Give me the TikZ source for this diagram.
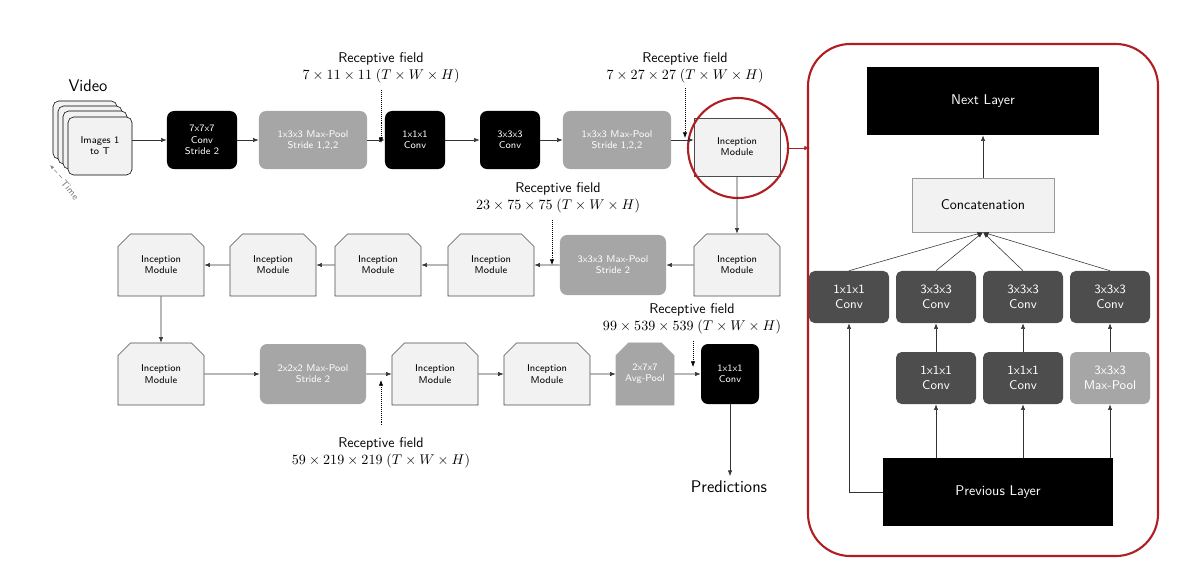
\documentclass[tikz,border=0pt]{standalone}
\usepackage{tikz}
\usetikzlibrary{shapes.misc}
\usetikzlibrary{arrows.meta}
\definecolor{darkbox}{HTML}{4D4D4D}
\definecolor{poolbox}{HTML}{A6A6A6}
\definecolor{incbox}{HTML}{F2F2F2}
\definecolor{ringred}{HTML}{B01E23}
\tikzset{
  every node/.style={font=\sffamily},
  blk/.style={rectangle,rounded corners=5pt,fill=black,text=white,align=center,font=\sffamily\scriptsize,minimum width=1.75cm,minimum height=1.45cm},
  pool/.style={rectangle,rounded corners=5pt,fill=poolbox,text=white,align=center,font=\sffamily\scriptsize,minimum width=2.7cm,minimum height=1.45cm},
  inc/.style={chamfered rectangle,chamfered rectangle corners={north west,north east},chamfered rectangle xsep=6pt,draw=black!70,fill=incbox,align=center,font=\sffamily\scriptsize,minimum width=2.15cm,minimum height=1.55cm,inner sep=0pt},
  drk/.style={rectangle,rounded corners=4pt,fill=darkbox,text=white,align=center,font=\sffamily\small,minimum width=2cm,minimum height=1.3cm},
  big/.style={rectangle,fill=black,text=white,font=\sffamily,minimum width=5.8cm,minimum height=1.7cm},
  frame/.style={rectangle,rounded corners=4pt,draw,fill=incbox,minimum width=1.6cm,minimum height=1.45cm},
  rf/.style={align=center,font=\sffamily\normalsize},
  arr/.style={-{Latex[length=4pt]},black!80},
  dot/.style={-{Latex[length=4pt]},densely dotted}
}
\begin{document}
\begin{tikzpicture}[x=0.025cm,y=-0.025cm]
  \useasboundingbox (0,0) rectangle (1200,573);
  % first row
  \node[font=\sffamily\large] (video) at (88,86) {Video};
  \node[frame] at (85,130) {};
  \node[frame] at (90,135) {};
  \node[frame] at (95,140) {};
  \node[frame,align=center,font=\sffamily\scriptsize] (img) at (100,146) {Images 1\\to T};
  \node[rotate=-50,text=gray,font=\sffamily\scriptsize] (time) at (70,190) {Time};
  \draw[-{Latex[length=3pt]},gray,densely dashed] (62,178) -- (50,165);
  \node[blk] (c7) at (202,140) {7x7x7\\Conv\\Stride 2};
  \node[pool] (mp1) at (313,140) {1x3x3 Max-Pool\\Stride 1,2,2};
  \node[blk,minimum width=1.5cm] (c1) at (415,140) {1x1x1\\Conv};
  \node[blk,minimum width=1.5cm] (c3) at (510,140) {3x3x3\\Conv};
  \node[pool] (mp2) at (617,140) {1x3x3 Max-Pool\\Stride 1,2,2};
  \node[rectangle,draw=black!70,fill=incbox,align=center,font=\sffamily\scriptsize,minimum width=2.15cm,minimum height=1.45cm] (i0) at (737,147) {Inception\\Module};
  \draw[ringred,line width=1.5pt] (738,148) circle (50);
  \draw[arr] (img.east |- c7) -- (c7);
  \draw[arr] (c7) -- (mp1);
  \draw[arr] (mp1) -- (c1);
  \draw[arr] (c1) -- (c3);
  \draw[arr] (c3) -- (mp2);
  \draw[arr] (mp2) -- (i0.west |- mp2);
  \node[rf] (rf1) at (381,68) {Receptive field\\$7\times11\times11\;(T\times W\times H)$};
  \draw[dot] (381,90) -- (381,143);
  \node[rf] (rf2) at (685,68) {Receptive field\\$7\times27\times27\;(T\times W\times H)$};
  \draw[dot] (685,88) -- (685,138);
  % second row
  \node[inc] (i1) at (737,265) {Inception\\Module};
  \node[pool,minimum width=2.65cm,minimum height=1.5cm] (mp3) at (613,265) {3x3x3 Max-Pool\\Stride 2};
  \node[inc] (i2) at (491,265) {Inception\\Module};
  \node[inc] (i3) at (378,265) {Inception\\Module};
  \node[inc] (i4) at (273,265) {Inception\\Module};
  \node[inc] (i5) at (161,265) {Inception\\Module};
  \draw[arr] (i0) -- (i1);
  \draw[arr] (i1) -- (mp3);
  \draw[arr] (mp3) -- (i2);
  \draw[arr] (i2) -- (i3);
  \draw[arr] (i3) -- (i4);
  \draw[arr] (i4) -- (i5);
  \node[rf] (rf3) at (558,198) {Receptive field\\$23\times75\times75\;(T\times W\times H)$};
  \draw[dot] (552,220) -- (552,265);
  % third row
  \node[inc] (i6) at (161,374) {Inception\\Module};
  \node[pool,minimum width=2.65cm,minimum height=1.5cm] (mp4) at (313,374) {2x2x2 Max-Pool\\Stride 2};
  \node[inc] (i7) at (435,374) {Inception\\Module};
  \node[inc] (i8) at (547,374) {Inception\\Module};
  \node[inc,fill=poolbox,text=white,draw=poolbox,minimum width=1.45cm] (ap) at (645,374) {2x7x7\\Avg-Pool};
  \node[blk,minimum width=1.45cm,minimum height=1.5cm] (c9) at (730,374) {1x1x1\\Conv};
  \draw[arr] (i5) -- (i6);
  \draw[arr] (i6) -- (mp4);
  \draw[arr] (mp4) -- (i7);
  \draw[arr] (i7) -- (i8);
  \draw[arr] (i8) -- (ap);
  \draw[arr] (ap) -- (c9);
  \node[rf] (rf4) at (692,319) {Receptive field\\$99\times539\times539\;(T\times W\times H)$};
  \draw[dot] (693,341) -- (693,367);
  \node[rf] (rf5) at (381,453) {Receptive field\\$59\times219\times219\;(T\times W\times H)$};
  \draw[dot] (381,425) -- (381,380);
  \node[font=\sffamily\large] (pred) at (729,487) {Predictions};
  \draw[arr] (c9.south) -- (c9.south |- pred.north);
  % inception module detail
  \draw[ringred,line width=1.5pt,rounded corners=30pt] (808,44) rectangle (1158,556);
  \draw[arr,ringred] (788,148) -- (810,148);
  \node[big] (next) at (983,101) {Next Layer};
  \node[rectangle,draw=black!40,fill=incbox,minimum width=3.55cm,minimum height=1.35cm] (cat) at (983,205) {Concatenation};
  \node[drk] (a1) at (849,297) {1x1x1\\Conv};
  \node[drk] (a2) at (936,297) {3x3x3\\Conv};
  \node[drk] (a3) at (1023,297) {3x3x3\\Conv};
  \node[drk] (a4) at (1110,297) {3x3x3\\Conv};
  \node[drk] (b2) at (936,378) {1x1x1\\Conv};
  \node[drk] (b3) at (1023,378) {1x1x1\\Conv};
  \node[drk,fill=poolbox] (b4) at (1110,378) {3x3x3\\Max-Pool};
  \node[big,minimum width=5.75cm] (prev) at (998,492) {Previous Layer};
  \draw[arr] (cat) -- (next);
  \foreach \n in {a1,a2,a3,a4} \draw[arr] (\n.north) -- (cat.south);
  \draw[arr] (b2) -- (a2);
  \draw[arr] (b3) -- (a3);
  \draw[arr] (b4) -- (a4);
  \draw[arr] (prev.north -| b2) -- (b2);
  \draw[arr] (prev.north -| b3) -- (b3);
  \draw[arr] (prev.north -| b4) -- (b4);
  \draw[arr] (prev.west) -| (a1);
\end{tikzpicture}
\end{document}
